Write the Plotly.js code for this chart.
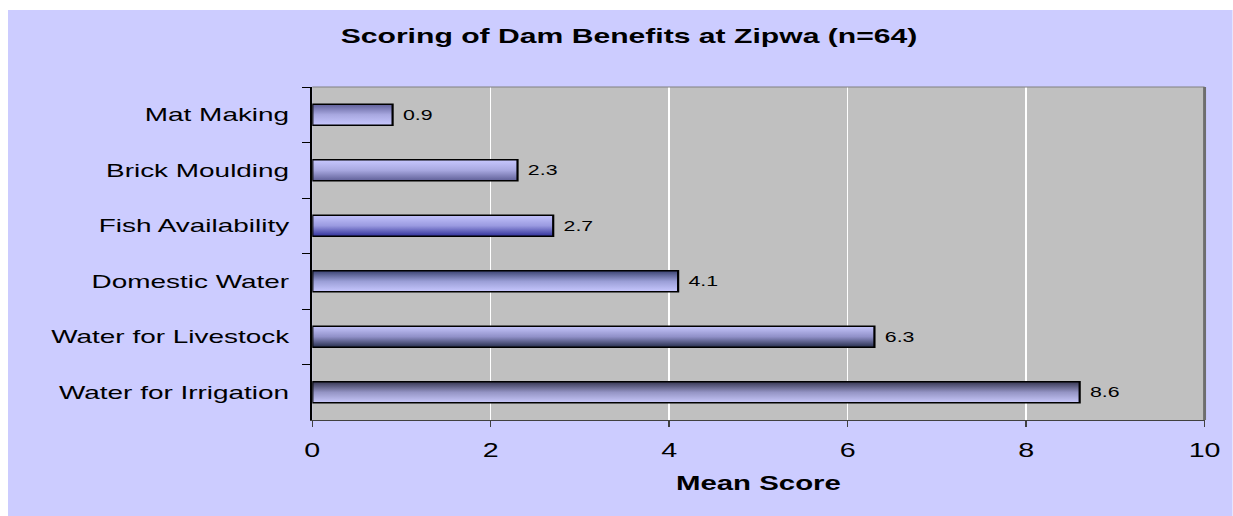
<!DOCTYPE html>
<html>
<head>
<meta charset="utf-8">
<script src="https://cdn.plot.ly/plotly-3.0.1.min.js"></script>
<style>
  html, body { margin: 0; padding: 0; background: #ffffff; width: 1233px; height: 516px; overflow: hidden; }
  #chart { position: absolute; left: 8px; top: 10px; transform-origin: 0 0; }
</style>
</head>
<body>
<div id="chart"></div>
<script>
// ---- data ----
const categories = ["Mat Making", "Brick Moulding", "Fish Availability", "Domestic Water", "Water for Livestock", "Water for Irrigation"];
const meanScores = [0.9, 2.3, 2.7, 4.1, 6.3, 8.6];
const xTickValues = [0, 2, 4, 6, 8, 10];
const xTickLabels = ["0", "2", "4", "6", "8", "10"];
const chartTitle = "Scoring of Dam Benefits at Zipwa (n=64)";
const xTitle = "Mean Score";

// ---- per-bar gradient styles [top colour, middle colour, bottom colour] ----
const barGradients = [
  ["#60609a", "#a8a8e0", "#c8c8ff"],
  ["#c8c8ff", "#a8a8e0", "#606098"],
  ["#c4c4fc", "#9a9ae0", "#30309a"],
  ["#3a4270", "#9a9ed6", "#c8c8ff"],
  ["#c6c6fc", "#9090c8", "#262e4c"],
  ["#363652", "#9494c4", "#c8c8fa"]
];

const S = 1.47;             // horizontal stretch of the reference
const W = 1225 / S, H = 506;
const el = document.getElementById('chart');
el.style.width = W + 'px';
el.style.height = H + 'px';
el.style.transform = 'scaleX(' + S + ')';

const FONT = "'Liberation Sans', Arial, Helvetica, sans-serif";

const trace = {
  type: 'bar',
  orientation: 'h',
  y: categories,
  x: meanScores,
  width: 0.38,
  marker: { color: '#9999dd', line: { color: '#000000', width: 1.5 } },
  text: meanScores.map(String),
  texttemplate: '\u00a0%{x}',
  textposition: 'outside',
  constraintext: 'none',
  cliponaxis: false,
  textfont: { family: FONT, size: 14.5, color: '#000000' },
  hoverinfo: 'none'
};

const layout = {
  width: W,
  height: H,
  margin: { l: 304 / S, r: W - (1205 - 8) / S, t: 77, b: 96 },
  paper_bgcolor: '#CCCCFF',
  plot_bgcolor: '#C0C0C0',
  showlegend: false,
  font: { family: FONT, color: '#000000' },
  title: {
    text: '<b>' + chartTitle + '</b>',
    font: { family: FONT, size: 20.5, color: '#000000' },
    xref: 'container', x: (629 - 8) / S / W, xanchor: 'center',
    yref: 'container', y: 1 - 26 / H, yanchor: 'middle'
  },
  xaxis: {
    range: [0, 10],
    tickvals: xTickValues,
    ticktext: xTickLabels,
    showgrid: true, gridcolor: '#ffffff', gridwidth: 1,
    zeroline: false,
    showline: true, linecolor: '#404040', linewidth: 1,
    ticks: 'outside', ticklen: 6, tickcolor: '#404040', tickwidth: 1,
    ticklabelstandoff: 7,
    tickfont: { family: FONT, size: 19.5, color: '#000000' },
    title: { text: '<b>' + xTitle + '</b>', font: { family: FONT, size: 20, color: '#000000' }, standoff: 15 },
    automargin: false,
    fixedrange: true
  },
  yaxis: {
    type: 'category',
    autorange: 'reversed',
    showgrid: false,
    zeroline: false,
    showline: true, linecolor: '#000000', linewidth: 1.4,
    ticks: 'outside', tickson: 'boundaries', ticklen: 5.5, tickcolor: '#000000', tickwidth: 1,
    ticksuffix: '\u00a0\u00a0',
    tickfont: { family: FONT, size: 19, color: '#000000' },
    automargin: false,
    fixedrange: true
  },
  shapes: [
    { type: 'line', xref: 'paper', yref: 'paper', x0: 0, x1: 1, y0: 1, y1: 1, line: { color: '#808080', width: 1 } },
    { type: 'line', xref: 'paper', yref: 'paper', x0: 1, x1: 1, y0: 0, y1: 1, line: { color: '#6e6e6e', width: 2 } }
  ]
};

function applyGradients() {
  const svg = el.querySelector('svg.main-svg');
  if (!svg) return;
  const NS = 'http://www.w3.org/2000/svg';
  let defs = svg.querySelector('defs#bar-grads');
  if (!defs) {
    defs = document.createElementNS(NS, 'defs');
    defs.setAttribute('id', 'bar-grads');
    svg.insertBefore(defs, svg.firstChild);
  }
  defs.innerHTML = '';
  barGradients.forEach((g, i) => {
    const lg = document.createElementNS(NS, 'linearGradient');
    lg.setAttribute('id', 'bargrad' + i);
    lg.setAttribute('x1', '0'); lg.setAttribute('y1', '0');
    lg.setAttribute('x2', '0'); lg.setAttribute('y2', '1');
    [[0, g[0]], [0.5, g[1]], [1, g[2]]].forEach(([o, c]) => {
      const st = document.createElementNS(NS, 'stop');
      st.setAttribute('offset', String(o));
      st.setAttribute('stop-color', c);
      lg.appendChild(st);
    });
    defs.appendChild(lg);
  });
  const paths = el.querySelectorAll('.barlayer .trace .point path');
  paths.forEach((p, i) => {
    if (i < barGradients.length) p.style.fill = 'url(#bargrad' + i + ')';
  });
}

Plotly.newPlot(el, [trace], layout, { displayModeBar: false, staticPlot: true }).then(applyGradients);
</script>
</body>
</html>
